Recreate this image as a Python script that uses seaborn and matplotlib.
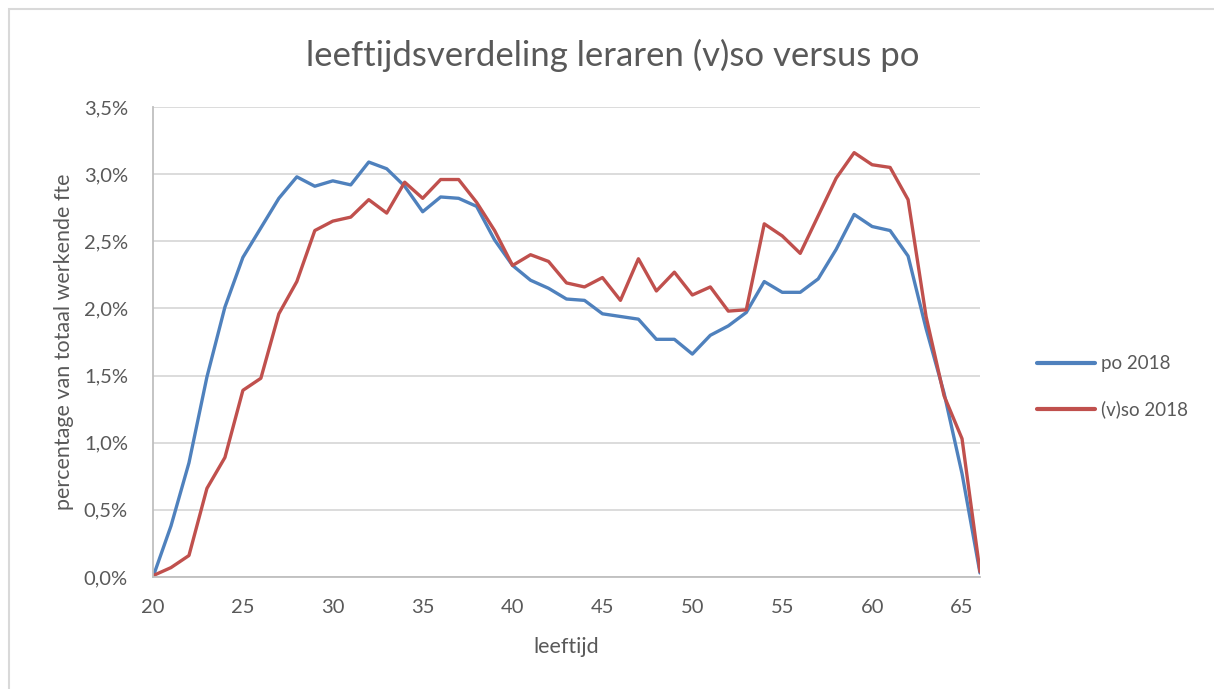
import numpy as np
import pandas as pd
import matplotlib.pyplot as plt
import matplotlib.patches as mpatches
from matplotlib.ticker import FuncFormatter
import seaborn as sns

# --- data (percentage of total working fte, per age) ----------------------
ages = list(range(20, 67))
po_2018 = [0.00, 0.38, 0.85, 1.49, 2.01, 2.38, 2.60, 2.82, 2.98, 2.91,
           2.95, 2.92, 3.09, 3.04, 2.91, 2.72, 2.83, 2.82, 2.76, 2.51,
           2.32, 2.21, 2.15, 2.07, 2.06, 1.96, 1.94, 1.92, 1.77, 1.77,
           1.66, 1.80, 1.87, 1.97, 2.20, 2.12, 2.12, 2.22, 2.44, 2.70,
           2.61, 2.58, 2.39, 1.85, 1.37, 0.77, 0.03]
vso_2018 = [0.01, 0.07, 0.16, 0.66, 0.89, 1.39, 1.48, 1.96, 2.20, 2.58,
            2.65, 2.68, 2.81, 2.71, 2.94, 2.82, 2.96, 2.96, 2.79, 2.58,
            2.32, 2.40, 2.35, 2.19, 2.16, 2.23, 2.06, 2.37, 2.13, 2.27,
            2.10, 2.16, 1.98, 1.99, 2.63, 2.54, 2.41, 2.69, 2.97, 3.16,
            3.07, 3.05, 2.81, 1.94, 1.35, 1.03, 0.04]
series_names = ["po 2018", "(v)so 2018"]
series_colors = ["#4F81BD", "#C0504D"]

df = pd.DataFrame({
    "leeftijd": ages * 2,
    "pct": po_2018 + vso_2018,
    "reeks": [series_names[0]] * len(ages) + [series_names[1]] * len(ages),
})

sns.set_style("white")
plt.rcParams["font.family"] = ["Lato", "DejaVu Sans"]
text_col = "#595959"

fig = plt.figure(figsize=(12.14, 6.89), dpi=100)
ax = fig.add_axes([153 / 1214, 112 / 689, 827 / 1214, 470 / 689])

sns.lineplot(data=df, x="leeftijd", y="pct", hue="reeks",
             hue_order=series_names, palette=series_colors,
             linewidth=2.4, ax=ax)

ax.set_xlim(20, 66)
ax.set_ylim(0, 3.5)
ax.set_xticks(range(20, 66, 5))
ax.set_yticks(np.arange(0, 3.51, 0.5))
ax.yaxis.set_major_formatter(FuncFormatter(lambda v, p: ("%.1f%%" % v).replace(".", ",")))
ax.tick_params(axis="both", length=0, labelsize=14.5, labelcolor=text_col)
ax.tick_params(axis="x", pad=16)
ax.tick_params(axis="y", pad=18)
ax.grid(axis="y", color="#D9D9D9", linewidth=1.3)
ax.set_axisbelow(True)
for s in ["top", "right"]:
    ax.spines[s].set_visible(False)
for s in ["left", "bottom"]:
    ax.spines[s].set_color("#BFBFBF")
    ax.spines[s].set_linewidth(1.3)

ax.set_xlabel("leeftijd", fontsize=15.5, color=text_col, labelpad=15)
ax.set_ylabel("percentage van totaal werkende fte", fontsize=15.5, color=text_col, labelpad=7)

fig.text(613 / 1214, 1 - 55 / 689, "leeftijdsverdeling leraren (v)so versus po",
         ha="center", va="center", fontsize=25, color=text_col)

leg = ax.legend(loc="center left", bbox_to_anchor=(1020 / 1214, 1 - 387 / 689),
                bbox_transform=fig.transFigure, frameon=False, fontsize=13.5,
                handlelength=3.1, handletextpad=0.3, labelspacing=1.5)
for t in leg.get_texts():
    t.set_color(text_col)
for h in leg.get_lines():
    h.set_linewidth(3)

# chart area border
fig.patches.append(mpatches.Rectangle((9 / 1214, -0.01), 1.1, 1 - 9 / 689 + 0.01,
                                      transform=fig.transFigure, fill=False,
                                      edgecolor="#D9D9D9", linewidth=1.5))

fig.savefig("out.png", dpi=100)
